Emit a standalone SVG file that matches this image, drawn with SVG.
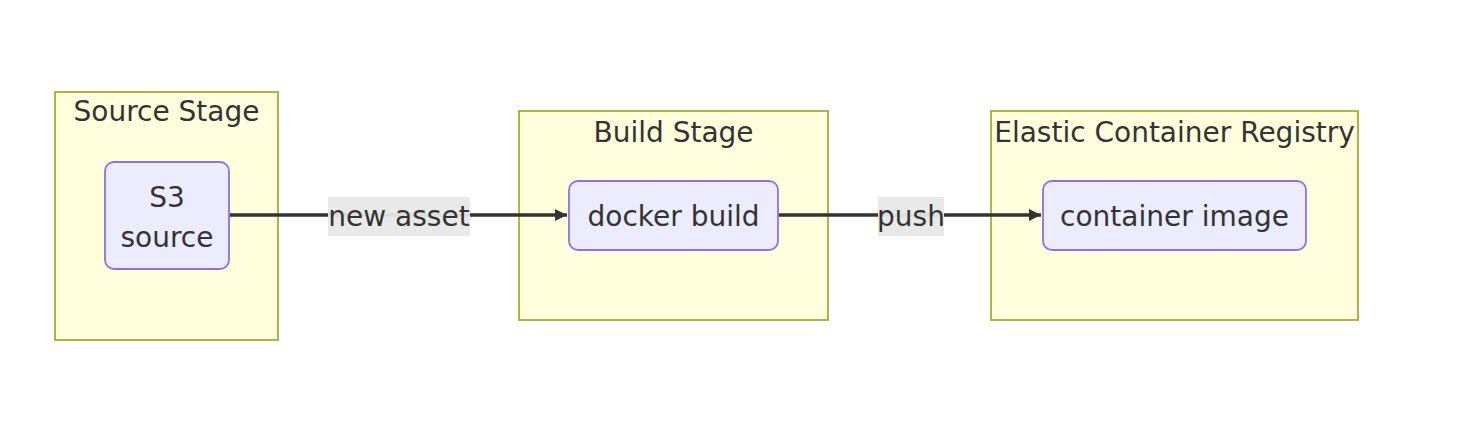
<svg xmlns="http://www.w3.org/2000/svg" width="1476" height="442" viewBox="0 0 1476 442">
<style>
.cluster rect{fill:#ffffde;stroke:#aaaa33;stroke-width:1.8}
.node rect{fill:#ECECFF;stroke:#9370DB;stroke-width:1.8}
text{font-family:"DejaVu Sans",Verdana,sans-serif;fill:#333333;font-size:28px;text-anchor:middle}
.edge{stroke:#333333;stroke-width:3.4;fill:none}
.lbl{fill:#e8e8e8;opacity:0.95}
</style>
<defs>
<marker id="arrow" viewBox="0 0 10 10" refX="10" refY="5" markerWidth="3.6" markerHeight="3.6" markerUnits="strokeWidth" orient="auto">
<path d="M0,0 L10,5 L0,10 z" fill="#333333"/>
</marker>
</defs>
<rect width="1476" height="442" fill="#ffffff"/>
<g id="cluster-source" class="cluster">
<rect x="55" y="92" width="223" height="248"/>
<text x="166.5" y="121">Source Stage</text>
</g>
<g id="cluster-build" class="cluster">
<rect x="519" y="111" width="309" height="209"/>
<text x="673.5" y="142">Build Stage</text>
</g>
<g id="cluster-ecr" class="cluster">
<rect x="991" y="111" width="367" height="209"/>
<text x="1174.5" y="142">Elastic Container Registry</text>
</g>
<g id="connectors">
<path class="edge" d="M229,215 L567,215" marker-end="url(#arrow)"/>
<path class="edge" d="M778,215 L1041,215" marker-end="url(#arrow)"/>
<rect class="lbl" x="328" y="197" width="142" height="39"/>
<text x="399" y="226">new asset</text>
<rect class="lbl" x="878" y="197" width="66" height="39"/>
<text x="911" y="226">push</text>
</g>
<g id="node-s3" class="node">
<rect x="105" y="162" width="124" height="107" rx="9" ry="9"/>
<text x="167" y="206.5">S3</text>
<text x="167" y="246.5">source</text>
</g>
<g id="node-docker" class="node">
<rect x="569" y="181" width="209" height="69" rx="9" ry="9"/>
<text x="673.5" y="226">docker build</text>
</g>
<g id="node-image" class="node">
<rect x="1043" y="181" width="263" height="69" rx="9" ry="9"/>
<text x="1174.5" y="226">container image</text>
</g>
</svg>
